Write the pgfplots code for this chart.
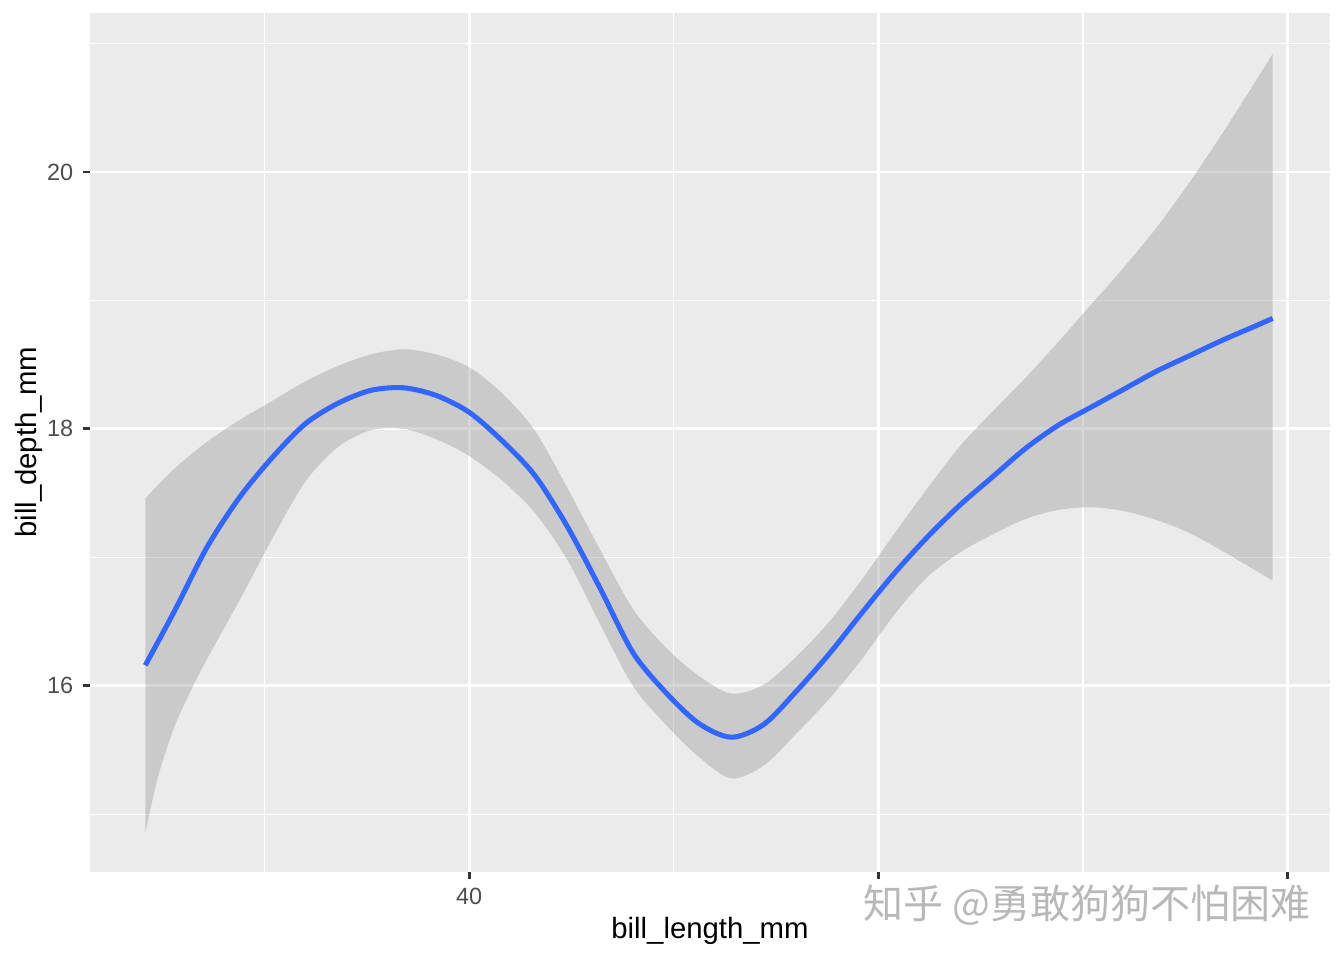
\documentclass[border=0pt]{standalone}
\usepackage{pgfplots}
\pgfplotsset{compat=1.18}
\usepgfplotslibrary{fillbetween}
\usepackage{fontspec}
\setmainfont{Liberation Sans}
\newfontfamily\cjk{Noto Sans CJK SC}
\definecolor{panel}{HTML}{EBEBEB}
\definecolor{ggblue}{HTML}{3366FF}
\definecolor{ticklab}{HTML}{4D4D4D}
\definecolor{tickline}{HTML}{333333}
\definecolor{band}{HTML}{999999}

\begin{document}
\begin{tikzpicture}
\begin{axis}[
  scale only axis, width=465bp, height=322bp,
  xmin=30.74, xmax=61.03, ymin=14.553, ymax=21.237,
  axis line style={draw=none},
  axis background/.style={fill=panel},
  xtick={40,50,60}, xticklabels={40,{},{}}, minor xtick={35,45,55},
  ytick={16,18,20}, minor ytick={15,17,19,21},
  grid=both,
  major grid style={white, line width=1.07bp},
  minor grid style={white, line width=0.53bp},
  tick align=outside, tick pos=left,
  major tick length=2.75bp, minor tick length=0pt,
  tick style={tickline, line width=1.07bp},
  /pgf/number format/assume math mode=true,
  ticklabel style={font=\fontsize{8.8bp}{10bp}\selectfont, text=ticklab},
]
\addplot[name path=up, draw=none, smooth] coordinates {
(32.09,17.46) (32.8,17.69) (33.6,17.90) (34.4,18.07) (35.2,18.22)
(36.0,18.37) (36.8,18.49) (37.6,18.58) (38.4,18.62) (39.2,18.58)
(40.0,18.48) (40.8,18.28) (41.6,17.99) (42.4,17.54) (43.2,17.06)
(44.0,16.60) (44.8,16.30) (45.6,16.08) (46.4,15.94) (47.2,16.01)
(48.0,16.23) (48.8,16.50) (49.6,16.83) (50.4,17.19) (51.2,17.54)
(52.0,17.87) (52.8,18.14) (53.6,18.40) (54.4,18.68) (55.2,18.97)
(56.0,19.26) (56.8,19.57) (57.6,19.92) (58.4,20.30) (59.2,20.70)
(59.63,20.92)};
\addplot[name path=lo, draw=none, smooth] coordinates {
(32.09,14.85) (32.4,15.29) (32.8,15.68) (33.2,15.96) (33.6,16.21)
(34.4,16.67) (35.2,17.15) (36.0,17.59) (36.8,17.86) (37.6,17.99)
(38.4,18.00) (39.2,17.92) (40.0,17.79) (40.8,17.60) (41.6,17.35)
(42.4,16.98) (43.2,16.48) (44.0,16.00) (44.8,15.70) (45.6,15.45)
(46.4,15.28) (47.2,15.38) (48.0,15.63) (48.8,15.90) (49.6,16.21)
(50.4,16.56) (51.2,16.85) (52.0,17.04) (52.8,17.18) (53.6,17.30)
(54.4,17.37) (55.2,17.39) (56.0,17.36) (56.8,17.29) (57.6,17.19)
(58.4,17.05) (59.2,16.90) (59.63,16.82)};
\addplot[band, fill opacity=0.4, draw=none] fill between[of=up and lo];
\addplot[ggblue, line width=1.9bp, smooth] coordinates {
(32.09,16.16) (32.8,16.58) (33.6,17.08) (34.4,17.47) (35.2,17.78)
(36.0,18.04) (36.8,18.20) (37.6,18.30) (38.4,18.32) (39.2,18.26)
(40.0,18.13) (40.8,17.91) (41.6,17.64) (42.4,17.24) (43.2,16.76)
(44.0,16.26) (44.8,15.95) (45.6,15.71) (46.4,15.60) (47.2,15.70)
(48.0,15.96) (48.8,16.25) (49.6,16.57) (50.4,16.88) (51.2,17.16)
(52.0,17.41) (52.8,17.63) (53.6,17.85) (54.4,18.03) (55.2,18.17)
(56.0,18.31) (56.8,18.45) (57.6,18.57) (58.4,18.69) (59.2,18.80)
(59.63,18.86)};
\coordinate (sw) at (rel axis cs:0,0);
\coordinate (ne) at (rel axis cs:1,1);
\coordinate (xlab) at (rel axis cs:0.5,0);
\coordinate (ylab) at (rel axis cs:0,0.5);
\coordinate (wm) at (axis cs:55.09,14.553);
\end{axis}
\node[font=\fontsize{11bp}{13bp}\selectfont, inner sep=0pt] at ([yshift=-22.1bp]xlab) {bill\_length\_mm};
\node[font=\fontsize{11bp}{13bp}\selectfont, inner sep=0pt, rotate=90] at ([xshift=-23bp]ylab) {bill\_depth\_mm};
\node[inner sep=1bp, text=black!28, font=\cjk\fontsize{15bp}{17bp}\selectfont]
  at ([yshift=-12.4bp]wm) {知乎\ @勇敢狗狗不怕困难};
\pgfresetboundingbox
\path ([shift={(-33.75bp,-33bp)}]sw) rectangle ([shift={(5.25bp,4.9bp)}]ne);
\end{tikzpicture}
\end{document}
